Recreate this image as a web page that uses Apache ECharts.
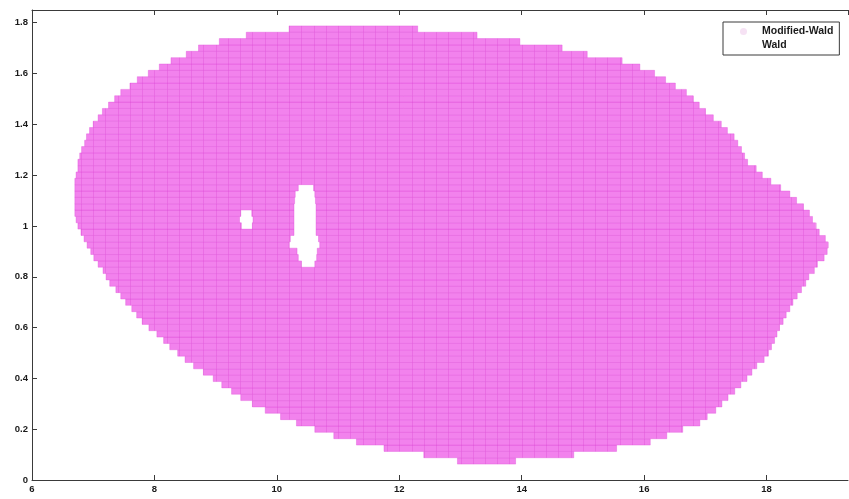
<!DOCTYPE html>
<html>
<head>
<meta charset="utf-8">
<script src="https://cdn.jsdelivr.net/npm/echarts@6/dist/echarts.min.js"></script>
<style>
html,body{margin:0;padding:0;background:#fff;}
#chart{width:849px;height:499px;}
</style>
</head>
<body>
<div id="chart"></div>
<script>
// ---- data ----
const seriesNames = ['Modified-Wald', 'Wald'];
const xTicks = [6, 8, 10, 12, 14, 16, 18];
const yTicks = [0, 0.2, 0.4, 0.6, 0.8, 1, 1.2, 1.4, 1.6, 1.8];
const ROW_STEP = 0.025;
const COL_STEP = 0.2;
// each grid row of the filled region: y, left x, right x
const rowY = [0.075,0.1,0.125,0.15,0.175,0.2,0.225,0.25,0.275,0.3,0.325,0.35,0.375,0.4,0.425,0.45,0.475,0.5,
  0.525,0.55,0.575,0.6,0.625,0.65,0.675,0.7,0.725,0.75,0.775,0.8,0.825,0.85,0.875,0.9,0.925,0.95,0.975,1.0,
  1.025,1.05,1.075,1.1,1.125,1.15,1.175,1.2,1.225,1.25,1.275,1.3,1.325,1.35,1.375,1.4,1.425,1.45,1.475,1.5,
  1.525,1.55,1.575,1.6,1.625,1.65,1.675,1.7,1.725,1.75,1.775];
const rowLeft = [12.95,12.4,11.75,11.3,10.93,10.62,10.32,10.06,9.81,9.6,9.41,9.26,9.1,8.96,8.8,8.64,8.5,8.38,
  8.25,8.15,8.04,7.91,7.8,7.71,7.63,7.53,7.45,7.37,7.27,7.21,7.16,7.08,7.01,6.96,6.9,6.85,6.8,6.75,
  6.72,6.7,6.7,6.7,6.7,6.7,6.7,6.72,6.75,6.75,6.78,6.81,6.86,6.89,6.94,7.0,7.08,7.15,7.25,7.35,
  7.45,7.6,7.72,7.9,8.08,8.27,8.52,8.72,9.06,9.5,10.2];
const rowRight = [13.9,14.85,15.55,16.1,16.37,16.63,16.91,17.03,17.17,17.27,17.37,17.48,17.58,17.68,17.76,17.84,17.96,18.03,
  18.08,18.13,18.17,18.21,18.27,18.32,18.38,18.43,18.5,18.57,18.64,18.69,18.78,18.83,18.94,18.99,19.0,18.96,18.86,18.8,
  18.75,18.7,18.6,18.49,18.38,18.23,18.07,17.93,17.83,17.69,17.64,17.59,17.53,17.47,17.36,17.26,17.13,17.0,16.9,16.8,
  16.69,16.51,16.35,16.17,15.93,15.64,15.07,14.66,13.97,13.27,12.3];
// empty holes inside the region: y, left x, right x
const holes = [
  [1.0, 9.42, 9.6], [1.025, 9.39, 9.61], [1.05, 9.41, 9.59],
  [0.85, 10.4, 10.62], [0.875, 10.35, 10.65], [0.9, 10.33, 10.66], [0.925, 10.2, 10.7], [0.95, 10.22, 10.68],
  [0.975, 10.28, 10.64], [1.0, 10.28, 10.64], [1.025, 10.28, 10.64], [1.05, 10.28, 10.64], [1.075, 10.28, 10.64],
  [1.1, 10.29, 10.63], [1.125, 10.3, 10.62], [1.15, 10.35, 10.6]
];

// build row segments (rows split by holes)
const segments = [];
rowY.forEach((y, i) => {
  const gaps = holes.filter(h => Math.abs(h[0] - y) < 1e-9).sort((a, b) => a[1] - b[1]);
  let start = rowLeft[i];
  gaps.forEach(g => { segments.push([y, start, g[1]]); start = g[2]; });
  segments.push([y, start, rowRight[i]]);
});

const chart = echarts.init(document.getElementById('chart'), null, {renderer: 'canvas'});
const FONT = 'Liberation Sans, Arial, sans-serif';
const labelStyle = {color: '#1a1a1a', fontSize: 9.5, fontWeight: 'bold', fontFamily: FONT};
const lineStyle = {color: '#3a3a3a', width: 1};
const onTick = (ticks, v) => ticks.some(t => Math.abs(t - v) < 1e-6);
chart.setOption({
  animation: false,
  backgroundColor: '#ffffff',
  grid: {left: 32, right: 1, top: 10, bottom: 19, containLabel: false},
  legend: {
    data: [
      {name: seriesNames[0], icon: 'circle', itemStyle: {color: '#f6e2f4'}},
      {name: seriesNames[1], icon: 'rect', itemStyle: {color: 'rgba(0,0,0,0)'}}
    ],
    orient: 'vertical', left: 723, top: 22,
    padding: [4, 6, 4, 17],
    itemWidth: 7, itemHeight: 7, itemGap: 3,
    backgroundColor: '#ffffff', borderColor: '#3a3a3a', borderWidth: 1,
    textStyle: {color: '#1a1a1a', fontSize: 10.5, fontWeight: 'bold', fontFamily: FONT, padding: [0, 0, 0, 10]}
  },
  xAxis: [{
    type: 'value', min: 6, max: 19.33, interval: 2, position: 'bottom',
    axisLine: {show: true, onZero: false, lineStyle: lineStyle},
    axisTick: {show: true, inside: true, length: 5, lineStyle: lineStyle},
    axisLabel: {show: true, margin: 4, showMaxLabel: false, ...labelStyle, formatter: v => onTick(xTicks, v) ? String(Math.round(v)) : ''},
    splitLine: {show: false}
  }, {
    type: 'value', min: 6, max: 19.33, interval: 2, position: 'top',
    axisLine: {show: true, onZero: false, lineStyle: lineStyle},
    axisTick: {show: true, inside: true, length: 5, lineStyle: lineStyle},
    axisLabel: {show: false}, splitLine: {show: false}
  }],
  yAxis: [{
    type: 'value', min: 0, max: 1.85, interval: 0.2, position: 'left',
    axisLine: {show: true, onZero: false, lineStyle: lineStyle},
    axisTick: {show: true, inside: true, length: 5, lineStyle: lineStyle},
    axisLabel: {show: true, margin: 4, showMaxLabel: false, ...labelStyle,
      formatter: v => onTick(yTicks, v) ? String(Math.round(v * 10) / 10) : ''},
    splitLine: {show: false}
  }, {
    type: 'value', min: 0, max: 1.85, interval: 0.2, position: 'right',
    axisLine: {show: false},
    axisTick: {show: false},
    axisLabel: {show: false}, splitLine: {show: false}
  }],
  series: [{
    name: seriesNames[0],
    type: 'custom',
    xAxisIndex: 0, yAxisIndex: 0,
    data: segments,
    encode: {x: [1, 2], y: 0},
    renderItem: function (params, api) {
      const y = api.value(0), x0 = api.value(1), x1 = api.value(2);
      const p0 = api.coord([x0, y]);
      const p1 = api.coord([x1, y]);
      const h = api.size([0, ROW_STEP])[1];
      const top = p0[1] - h / 2;
      const children = [{
        type: 'rect',
        shape: {x: p0[0], y: top, width: p1[0] - p0[0], height: h},
        style: {fill: '#f282ed', stroke: 'rgba(222,70,214,0.5)', lineWidth: 0.7}
      }];
      // faint vertical texture of the marker grid
      for (let gx = Math.ceil(x0 / COL_STEP) * COL_STEP; gx < x1; gx += COL_STEP) {
        const px = Math.round(api.coord([gx, y])[0]) + 0.5;
        children.push({
          type: 'line',
          shape: {x1: px, y1: top, x2: px, y2: top + h},
          style: {stroke: 'rgba(215,60,205,0.28)', lineWidth: 1}
        });
      }
      return {type: 'group', children: children};
    },
    z: 2
  }, {
    name: seriesNames[1],
    type: 'scatter',
    data: [],
    itemStyle: {color: 'rgba(0,0,0,0)'}
  }]
});
</script>
</body>
</html>
